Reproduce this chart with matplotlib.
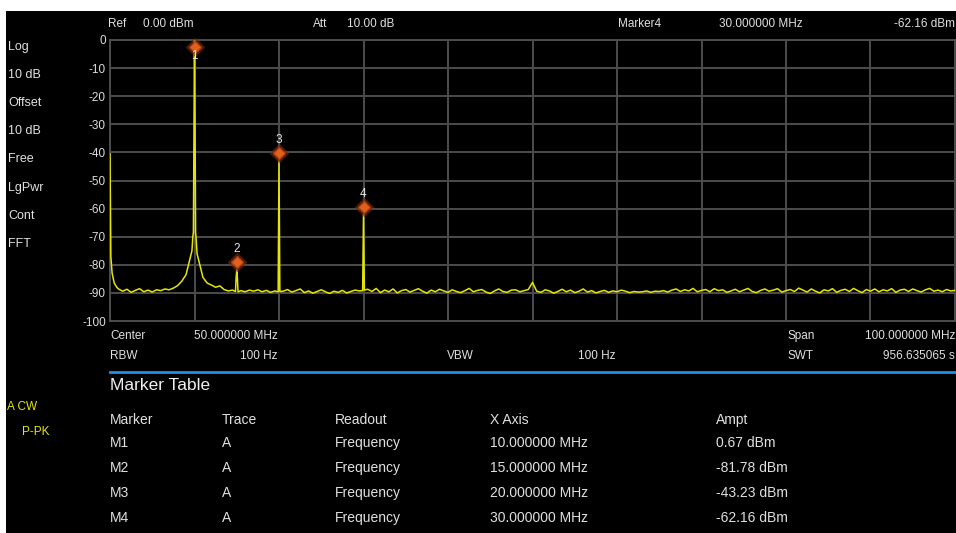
import numpy as np
import matplotlib.pyplot as plt
from matplotlib.patches import Rectangle
from matplotlib.transforms import offset_copy

W, H = 956, 533

# trace noise floor, 0.5 MHz steps from 1.0 to 100.0 MHz (dBm)
floor_start = 1.0
floor_step = 0.5
floor_levels = [
    -88.6, -89.4, -88.7, -89.8, -89.1, -88.5, -89.6, -89.0, -89.7, -88.9,
    -89.2, -88.6, -88.9, -88.3, -87.4, -85.8, -83.5, -79.5, -60.0, -80.5,
    -84.5, -86.5, -87.2, -88.0, -87.5, -88.8, -89.3, -89.0, -85.0, -89.2,
    -89.6, -89.0, -89.4, -88.9, -89.6, -89.1, -89.8, -89.3, -89.0, -89.4,
    -88.8, -89.7, -89.2, -88.6, -89.9, -89.3, -90.1, -89.5, -88.9, -89.6,
    -90.2, -89.4, -89.8, -89.1, -90.0, -89.5, -89.0, -89.3, -89.0, -88.7,
    -89.5, -88.4, -89.9, -89.0, -89.6, -88.6, -90.0, -89.2, -88.8, -89.7,
    -89.1, -88.5, -89.4, -90.1, -89.0, -89.6, -88.7, -89.3, -89.8, -88.9,
    -89.5, -89.9, -89.2, -88.4, -89.6, -89.1, -88.8, -89.7, -90.2, -89.3,
    -88.6, -89.5, -89.8, -89.0, -88.9, -89.6, -89.2, -88.8, -86.3, -89.4,
    -89.8, -88.9, -89.3, -90.1, -89.5, -88.7, -89.6, -89.0, -89.9, -89.4,
    -88.6, -89.7, -89.2, -90.0, -89.5, -89.1, -89.8, -89.3, -89.6, -89.0,
    -89.4, -89.9, -89.5, -89.7, -89.6, -89.3, -89.8, -89.4, -89.5, -89.2,
    -89.7, -89.0, -88.6, -89.5, -88.9, -89.3, -88.4, -89.6, -89.1, -88.8,
    -89.6, -88.5, -89.2, -88.9, -89.8, -89.3, -88.7, -89.6, -89.0, -88.4,
    -89.5, -89.9, -89.1, -88.6, -89.4, -89.0, -88.5, -89.7, -89.2, -88.8,
    -89.5, -88.3, -89.0, -89.7, -88.6, -89.4, -90.0, -88.9, -89.3, -88.5,
    -89.8, -89.1, -88.7, -89.5, -88.4, -89.2, -89.9, -88.8, -89.4, -88.6,
    -89.6, -88.9, -89.3, -88.5, -89.8, -89.0, -88.7, -89.5, -88.6, -89.2,
    -89.7, -88.9, -88.4, -89.4, -89.0, -89.6, -88.8, -89.3, -89.1,
]

# fine detail around DC and the four tones (MHz, dBm)
dc_freq = [0.0, 0.1, 0.25, 0.5, 0.8]
dc_level = [-40.5, -77.0, -83.0, -86.5, -88.0]
spike_freq = [
    [9.7, 9.8, 9.87, 9.93, 10.0, 10.07, 10.13, 10.2, 10.3],
    [14.85, 14.92, 15.0, 15.08, 15.15],
    [19.9, 19.95, 20.0, 20.05, 20.1],
    [29.9, 29.95, 30.0, 30.05, 30.1],
]
spike_level = [
    [-75.0, -70.0, -68.5, -33.0, 0.67, -33.0, -68.5, -71.0, -76.0],
    [-89.5, -85.0, -81.78, -85.0, -89.6],
    [-89.6, -66.0, -43.23, -66.0, -89.5],
    [-89.2, -75.5, -62.16, -75.5, -89.0],
]

# marker table
marker_names = ["M1", "M2", "M3", "M4"]
marker_freq = [10.0, 15.0, 20.0, 30.0]
marker_ampt = [0.67, -81.78, -43.23, -62.16]

# merge floor and detail points into one trace
freq = list(dc_freq)
level = list(dc_level)
for i, v in enumerate(floor_levels):
    f = floor_start + i * floor_step
    if any(fs[0] - 0.3 <= f <= fs[-1] + 0.3 for fs in spike_freq):
        continue
    freq.append(f)
    level.append(v)
for fs, ls in zip(spike_freq, spike_level):
    freq += fs
    level += ls
order = np.argsort(freq)
freq = np.array(freq)[order]
level = np.array(level)[order]

fig = plt.figure(figsize=(W / 100, H / 100), dpi=100)
fig.patch.set_facecolor("white")
fig.patches.append(Rectangle((6 / W, 0), 1 - 6 / W, 1 - 11 / H,
                             transform=fig.transFigure, facecolor="black",
                             edgecolor="none", zorder=-1))

ax = fig.add_axes([110 / W, (H - 321) / H, 845 / W, 281 / H])
ax.set_facecolor("black")
ax.set_xlim(0, 100)
ax.set_ylim(-100, 0)
ax.set_xticks(np.arange(0, 101, 10))
ax.set_yticks(np.arange(-100, 1, 10))
ax.set_xticklabels([])
ax.set_yticklabels([str(v) for v in range(-100, 1, 10)])
ax.tick_params(length=0, colors="#dcdcdc", labelsize=8.5, pad=3)
for lab in ax.get_yticklabels():
    lab.set_fontfamily("Liberation Sans")
ax.grid(True, color="#4d4d4d", linewidth=1.4)
ax.set_axisbelow(True)
for s in ax.spines.values():
    s.set_color("#4d4d4d")
    s.set_linewidth(1.4)

ax.plot(freq, level, color="#e6e600", linewidth=1.1, zorder=3)

# marker diamonds sit a few pixels above the peak, clamped inside the grid
for k, (f, a) in enumerate(zip(marker_freq, marker_ampt)):
    if a > -3:
        y, dy, ty = 0, -7, -16
    else:
        y, dy, ty = a, 8, 21
    tr = offset_copy(ax.transData, fig=fig, y=dy, units="dots")
    ax.plot([f], [y], marker="D", markersize=9, color="#7a2a08",
            alpha=0.5, transform=tr, zorder=4, clip_on=False)
    ax.plot([f], [y], marker="D", markersize=6.5, color="#e0601c",
            markeredgecolor="#b04010", transform=tr, zorder=5, clip_on=False)
    ttr = offset_copy(ax.transData, fig=fig, y=ty, units="dots")
    ax.text(f, y, str(k + 1), transform=ttr, ha="center", va="center",
            color="#e8e8e8", fontsize=8.5, family="Liberation Sans", zorder=6)


def put(x, y, s, size=8.5, color="#e0e0e0", ha="left"):
    fig.text(x / W, 1 - y / H, s, ha=ha, va="center", fontsize=size,
             color=color, family="Liberation Sans")


# header row
put(108, 24, "Ref")
put(143, 24, "0.00 dBm")
put(313, 24, "Att")
put(347, 24, "10.00 dB")
put(618, 24, "Marker4")
put(719, 24, "30.000000 MHz")
put(955, 24, "-62.16 dBm", ha="right")

# left status column
side = ["Log", "10 dB", "Offset", "10 dB", "Free", "LgPwr", "Cont", "FFT"]
for i, s in enumerate(side):
    put(8, 47 + i * 28.1, s, size=9)

# settings under the grid
put(110, 336, "Center")
put(194, 336, "50.000000 MHz")
put(787, 336, "Span")
put(955, 336, "100.000000 MHz", ha="right")
put(110, 356, "RBW")
put(278, 356, "100 Hz", ha="right")
put(447, 356, "VBW")
put(616, 356, "100 Hz", ha="right")
put(787, 356, "SWT")
put(955, 356, "956.635065 s", ha="right")

fig.add_artist(plt.Line2D([110 / W, 1], [1 - 372 / H, 1 - 372 / H],
                          transform=fig.transFigure, color="#2090e8",
                          linewidth=2))

# trace status
put(7, 407, "A CW", size=8.5, color="#e6e600")
put(22, 432, "P-PK", size=8.5, color="#e6e600")

# marker table
put(110, 386, "Marker Table", size=12.5, color="#f0f0f0")
cols = [110, 222, 335, 490, 716]
for x, s in zip(cols, ["Marker", "Trace", "Readout", "X Axis", "Ampt"]):
    put(x, 420, s, size=10)
for r, (n, f, a) in enumerate(zip(marker_names, marker_freq, marker_ampt)):
    y = 443 + r * 25
    row = [n, "A", "Frequency", f"{f:.6f} MHz", f"{a:.2f} dBm"]
    for x, s in zip(cols, row):
        put(x, y, s, size=10)

fig.savefig("out.png", dpi=100, facecolor="white")
